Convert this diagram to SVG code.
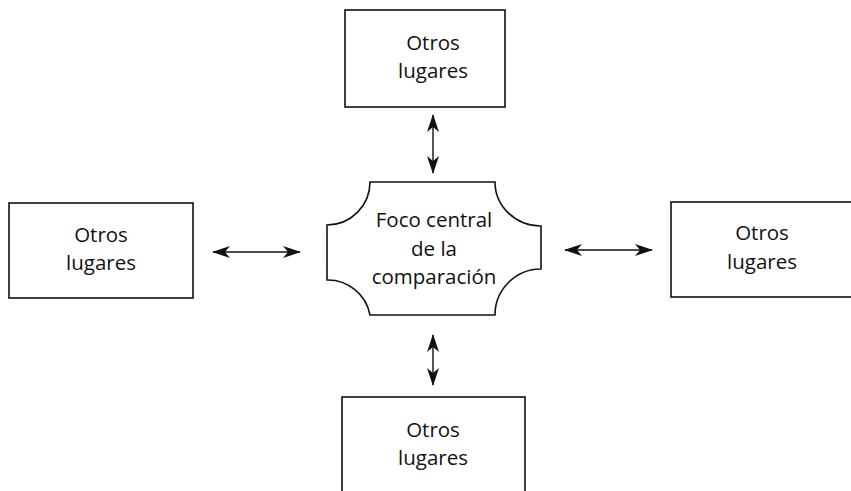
<svg xmlns="http://www.w3.org/2000/svg" width="851" height="491" viewBox="0 0 851 491">
<style>
.box{fill:#fff;stroke:#111;stroke-width:1.6}
.t{font-family:"Open Sans","DejaVu Sans",sans-serif;font-size:20.5px;fill:#111;text-anchor:middle}
.c{stroke:#111;stroke-width:1.4;fill:none}
</style>
<defs>
<marker id="ah" viewBox="0 0 18 12" refX="17" refY="6" markerWidth="18" markerHeight="12" markerUnits="userSpaceOnUse" orient="auto-start-reverse">
<path d="M0,0 L18,6 L0,12 L5,6 Z" fill="#111"/>
</marker>
</defs>
<rect width="851" height="491" fill="#fff"/>
<g id="top">
<rect class="box" x="345" y="10" width="160" height="97"/>
<text class="t" x="433" y="50">Otros</text>
<text class="t" x="433" y="78">lugares</text>
</g>
<g id="left">
<rect class="box" x="9" y="203" width="184" height="95"/>
<text class="t" x="101" y="242">Otros</text>
<text class="t" x="101" y="270">lugares</text>
</g>
<g id="right">
<rect class="box" x="671" y="202" width="200" height="95"/>
<text class="t" x="762" y="240">Otros</text>
<text class="t" x="762" y="269">lugares</text>
</g>
<g id="bottom">
<rect class="box" x="342" y="397" width="183" height="110"/>
<text class="t" x="433" y="437">Otros</text>
<text class="t" x="433" y="465">lugares</text>
</g>
<g id="center">
<path class="box" d="M370,182 L495,182 A46,44 0 0 0 541,226 L541,269 A46,46 0 0 0 495,315 L370,315 A43,43 0 0 0 327,280 L327,225 A43,43 0 0 0 370,182 Z"/>
<text class="t" x="434" y="227">Foco central</text>
<text class="t" x="434" y="256">de la</text>
<text class="t" x="434" y="284">comparación</text>
</g>
<g id="connectors">
<line class="c" x1="433" y1="115" x2="433" y2="173" marker-start="url(#ah)" marker-end="url(#ah)"/>
<line class="c" x1="213" y1="252" x2="300" y2="252" marker-start="url(#ah)" marker-end="url(#ah)"/>
<line class="c" x1="565" y1="250" x2="652" y2="250" marker-start="url(#ah)" marker-end="url(#ah)"/>
<line class="c" x1="433" y1="335" x2="433" y2="385" marker-start="url(#ah)" marker-end="url(#ah)"/>
</g>
</svg>
